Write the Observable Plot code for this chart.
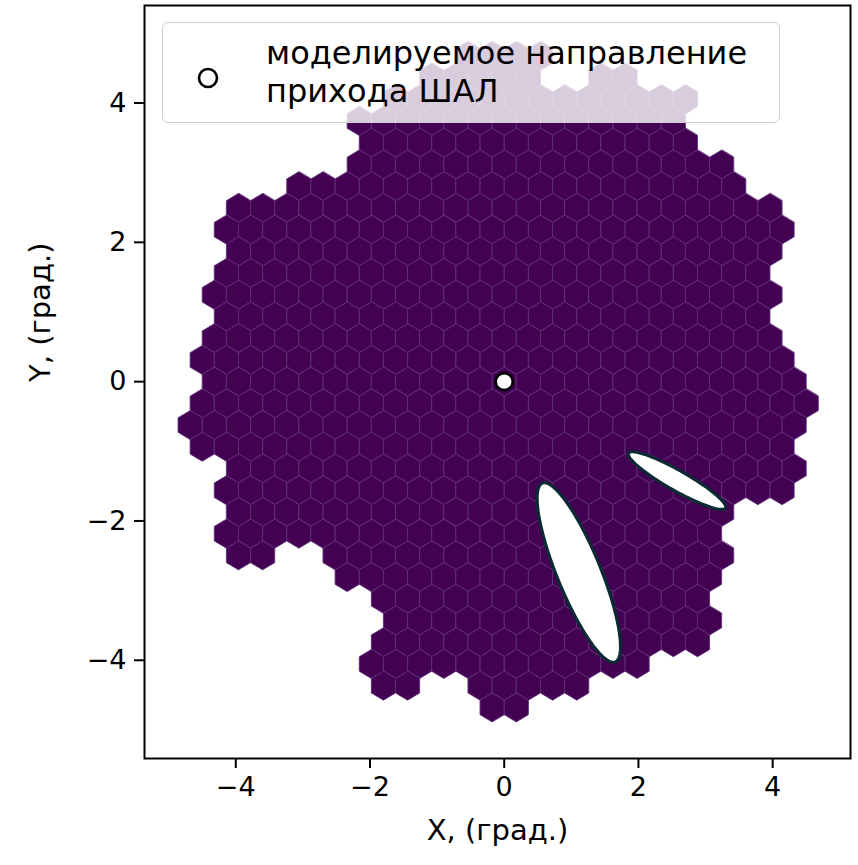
<!DOCTYPE html>
<html><head><meta charset="utf-8">
<script src="https://cdn.jsdelivr.net/npm/d3@7"></script>
<script src="https://cdn.jsdelivr.net/npm/@observablehq/plot@0.6"></script>
<style>
body{margin:0;background:#fff;font-family:"DejaVu Sans",sans-serif;}
#wrap{position:relative;width:858px;height:865px;}
#legend{position:absolute;left:162px;top:22px;width:618px;height:101px;box-sizing:border-box;background:rgba(255,255,255,0.8);border:1.5px solid #cfcfcf;border-radius:6px;}
#legend svg{position:absolute;left:0;top:0;}
</style></head><body><div id="wrap"></div>
<script>
// camera pixel pitch (deg) and hexagon rows (row index, column ranges in half-pitch units)
const pixelPitch = 0.36;
const rowIds = [15,14,13,12,11,10,9,8,7,6,5,4,3,2,1,0,-1,-2,-3,-4,-5,-6,-7,-8,-9,-10,-11,-12,-13,-14,-15];
const rowRanges = [
  [[-3,3]],
  [[-6,2],[8,10]],
  [[-9,15]],
  [[-12,14]],
  [[-11,15]],
  [[-12,18]],
  [[-17,19]],
  [[-22,22]],
  [[-23,23]],
  [[-22,22]],
  [[-23,21]],
  [[-24,22]],
  [[-23,21]],
  [[-24,22]],
  [[-25,23]],
  [[-24,24]],
  [[-25,25]],
  [[-26,24]],
  [[-25,23]],
  [[-22,24]],
  [[-23,23]],
  [[-22,18]],
  [[-23,17]],
  [[-22,-20],[-14,18]],
  [[-13,17]],
  [[-10,16]],
  [[-9,17]],
  [[-10,16]],
  [[-11,11]],
  [[-10,-8],[-2,6]],
  [[-1,1]]
];
// image ellipses (center, semi-axes, angle in degrees)
const ellipseIds = ["A","B"];
const ellipseCx = [1.112, 2.575];
const ellipseCy = [-2.740, -1.420];
const ellipseSemiMajor = [1.395, 0.824];
const ellipseSemiMinor = [0.325, 0.146];
const ellipseAngle = [-67.0, -28.6];
// simulated arrival direction
const sourceX = [0];
const sourceY = [0];
const xTicks = [-4,-2,0,2,4];
const yTicks = [-4,-2,0,2,4];
const xLabel = "X, (град.)";
const yLabel = "Y, (град.)";
const legendLines = ["моделируемое направление","прихода ШАЛ"];

// hexagon polygons
const rowPitch = pixelPitch*Math.sqrt(3)/2;
const Rv = pixelPitch/Math.sqrt(3);
const hexVerts = [];
let hid = 0;
rowIds.forEach((r,i)=>{
  rowRanges[i].forEach(([k0,k1])=>{
    for(let k=k0;k<=k1;k+=2){
      const cx = k*pixelPitch/2, cy = r*rowPitch;
      for(let j=0;j<6;j++){
        const a = Math.PI/2 + j*Math.PI/3;
        hexVerts.push({id:hid, x:cx+Rv*Math.cos(a), y:cy+Rv*Math.sin(a)});
      }
      hid++;
    }
  });
});
// ellipse outlines
const ellPts = [];
ellipseIds.forEach((e,i)=>{
  const th = ellipseAngle[i]*Math.PI/180;
  for(let j=0;j<120;j++){
    const t = j/120*2*Math.PI;
    const u = ellipseSemiMajor[i]*Math.cos(t), v = ellipseSemiMinor[i]*Math.sin(t);
    ellPts.push({id:e, x:ellipseCx[i]+u*Math.cos(th)-v*Math.sin(th), y:ellipseCy[i]+u*Math.sin(th)+v*Math.cos(th)});
  }
});
const src = sourceX.map((x,i)=>({x, y:sourceY[i]}));
const fmt = d => d<0 ? "\u2212"+Math.abs(d) : String(d);

const chart = Plot.plot({
  width:858, height:865,
  marginLeft:144, marginRight:8, marginTop:5, marginBottom:107,
  x:{domain:[-5.36,5.16]},
  y:{domain:[-5.41,5.40]},
  style:{fontFamily:"DejaVu Sans", fontSize:"27px", color:"black", background:"white"},
  marks:[
    Plot.line(hexVerts,{x:"x",y:"y",z:"id",curve:"linear-closed",fill:"#440154",stroke:"#5d2f77",strokeWidth:0.9}),
    Plot.line(ellPts,{x:"x",y:"y",z:"id",curve:"linear-closed",fill:"white",stroke:"#0c2a33",strokeWidth:3.2}),
    Plot.dot(src,{x:"x",y:"y",r:8.5,fill:"white",stroke:"black",strokeWidth:2.6}),
    Plot.frame({stroke:"black",strokeWidth:2}),
    Plot.axisX({ticks:xTicks,tickFormat:fmt,tickSize:10,tickPadding:8,strokeWidth:2,fontSize:27,label:null}),
    Plot.axisY({ticks:yTicks,tickFormat:fmt,tickSize:10,tickPadding:8,strokeWidth:2,fontSize:27,label:null}),
    Plot.text([xLabel],{frameAnchor:"bottom",dy:72,lineAnchor:"middle",text:d=>d,fontSize:29}),
    Plot.text([yLabel],{frameAnchor:"left",dx:-104,rotate:-90,lineAnchor:"middle",text:d=>d,fontSize:29})
  ]
});
const wrap = document.getElementById("wrap");
wrap.appendChild(chart);
// legend overlay
const lg = document.createElement("div");
lg.id = "legend";
wrap.appendChild(lg);
const ls = d3.select(lg).append("svg").attr("width",618).attr("height",101);
ls.append("circle").attr("cx",45).attr("cy",55).attr("r",9).attr("fill","white").attr("stroke","black").attr("stroke-width",2.6);
legendLines.forEach((t,i)=>{
  ls.append("text").attr("x",103).attr("y",41+i*38).attr("font-family","DejaVu Sans").attr("font-size",32).attr("fill","black").text(t);
});
</script></body></html>
